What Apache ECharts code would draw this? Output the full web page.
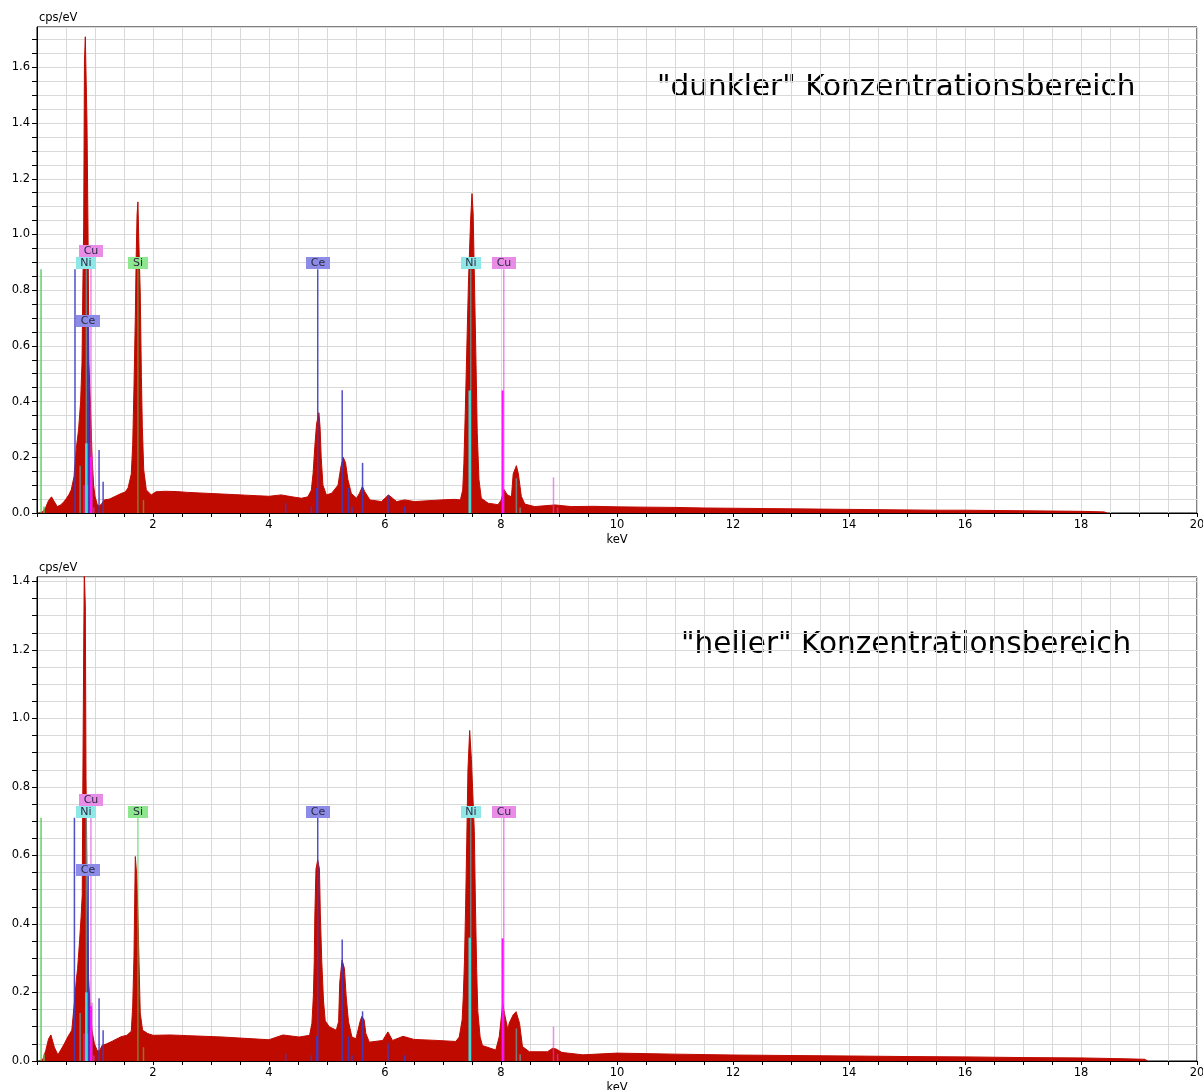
<!DOCTYPE html>
<html>
<head>
<meta charset="utf-8">
<script src="https://cdn.jsdelivr.net/npm/echarts@6/dist/echarts.min.js"></script>
<style>
html,body{margin:0;padding:0;background:#fff;overflow:hidden;width:1203px;height:1090px;}
#chart{display:block;width:1203px;height:1090px;overflow:hidden;}
</style>
</head>
<body>
<div id="chart"></div>
<script>
// ---------- DATA ----------
const titles = ['"dunkler" Konzentrationsbereich', '"heller" Konzentrationsbereich'];
const xAxisName = 'keV';
const yAxisName = 'cps/eV';

// spectrum [keV, cps/eV] — upper panel ("dunkler")
const spectrumTop = [
  [0.04,0],[0.10,0.005],[0.15,0.02],[0.20,0.045],[0.25,0.058],[0.30,0.04],[0.35,0.023],[0.40,0.028],
  [0.45,0.037],[0.50,0.05],[0.55,0.066],[0.59,0.083],[0.638,0.13],[0.678,0.232],[0.717,0.30],
  [0.752,0.40],[0.764,0.47],[0.776,0.54],[0.790,0.80],[0.805,1.03],[0.818,1.62],[0.833,1.71],
  [0.848,1.55],[0.862,1.40],[0.879,1.03],[0.896,0.54],[0.910,0.45],[0.924,0.375],[0.948,0.21],
  [0.976,0.10],[1.00,0.06],[1.04,0.03],[1.08,0.025],[1.12,0.035],[1.16,0.047],[1.25,0.05],
  [1.35,0.06],[1.45,0.07],[1.52,0.075],[1.57,0.09],[1.626,0.14],[1.65,0.245],[1.672,0.45],
  [1.695,0.70],[1.71,0.92],[1.725,1.07],[1.74,1.117],[1.755,0.98],[1.78,0.79],[1.80,0.49],
  [1.816,0.31],[1.84,0.155],[1.885,0.083],[1.97,0.065],[2.05,0.076],[2.2,0.078],[2.4,0.077],
  [2.6,0.074],[2.8,0.072],[3.0,0.07],[3.2,0.068],[3.4,0.066],[3.6,0.064],[3.8,0.062],[4.0,0.06],
  [4.21,0.065],[4.40,0.058],[4.56,0.053],[4.67,0.058],[4.73,0.082],[4.76,0.142],[4.79,0.238],
  [4.82,0.32],[4.86,0.36],[4.88,0.31],[4.90,0.20],[4.93,0.10],[4.99,0.065],[5.08,0.071],
  [5.19,0.10],[5.24,0.166],[5.28,0.20],[5.32,0.18],[5.36,0.12],[5.42,0.07],[5.51,0.053],
  [5.56,0.071],[5.61,0.095],[5.65,0.077],[5.74,0.047],[5.94,0.041],[6.06,0.065],[6.20,0.041],
  [6.34,0.047],[6.51,0.041],[6.97,0.047],[7.20,0.049],[7.30,0.047],[7.34,0.083],[7.36,0.178],
  [7.385,0.37],[7.41,0.585],[7.44,0.836],[7.476,1.051],[7.50,1.147],[7.52,1.075],[7.545,0.80],
  [7.57,0.53],[7.59,0.29],[7.62,0.12],[7.66,0.053],[7.78,0.035],[7.95,0.03],[8.005,0.047],
  [8.05,0.085],[8.11,0.065],[8.18,0.058],[8.21,0.14],[8.265,0.17],[8.30,0.14],[8.35,0.06],
  [8.41,0.032],[8.58,0.023],[8.93,0.029],[9.21,0.023],[9.6,0.024],[10,0.022],[10.5,0.021],
  [11,0.02],[11.5,0.018],[12,0.017],[12.5,0.016],[13,0.015],[13.5,0.014],[14,0.013],[14.5,0.012],
  [15,0.011],[15.5,0.01],[16,0.01],[16.5,0.009],[17,0.008],[17.5,0.007],[18,0.006],[18.4,0.004],[18.45,0]
];

// spectrum [keV, cps/eV] — lower panel ("heller")
const spectrumBottom = [
  [0.04,0],[0.10,0.005],[0.15,0.03],[0.20,0.065],[0.24,0.076],[0.30,0.04],[0.36,0.018],[0.42,0.035],
  [0.47,0.05],[0.53,0.07],[0.60,0.09],[0.65,0.18],[0.68,0.24],[0.70,0.27],[0.735,0.353],[0.76,0.42],
  [0.78,0.485],[0.79,0.796],[0.805,1.20],[0.815,1.43],[0.825,1.43],[0.833,1.33],[0.845,0.83],
  [0.867,0.45],[0.89,0.24],[0.914,0.16],[0.948,0.09],[0.99,0.05],[1.04,0.03],[1.08,0.03],
  [1.12,0.045],[1.2,0.05],[1.3,0.058],[1.45,0.071],[1.55,0.075],[1.626,0.087],[1.65,0.16],
  [1.672,0.305],[1.695,0.597],[1.72,0.54],[1.74,0.43],[1.76,0.28],[1.78,0.14],[1.82,0.09],
  [1.91,0.08],[2.0,0.075],[2.3,0.076],[2.6,0.074],[2.9,0.072],[3.2,0.07],[3.5,0.067],[3.8,0.064],
  [4.0,0.062],[4.24,0.076],[4.52,0.07],[4.70,0.075],[4.74,0.11],[4.765,0.19],[4.78,0.29],
  [4.79,0.42],[4.81,0.56],[4.84,0.587],[4.87,0.56],[4.885,0.43],[4.91,0.29],[4.94,0.175],
  [4.97,0.117],[5.04,0.10],[5.16,0.09],[5.20,0.115],[5.22,0.23],[5.26,0.295],[5.30,0.27],
  [5.33,0.19],[5.37,0.115],[5.43,0.07],[5.50,0.065],[5.57,0.115],[5.60,0.13],[5.64,0.12],
  [5.67,0.08],[5.73,0.055],[5.96,0.06],[6.05,0.085],[6.13,0.06],[6.31,0.072],[6.5,0.063],
  [6.9,0.06],[7.22,0.057],[7.28,0.07],[7.33,0.12],[7.35,0.19],[7.37,0.29],[7.39,0.45],[7.41,0.645],
  [7.43,0.85],[7.46,0.965],[7.49,0.88],[7.54,0.67],[7.56,0.45],[7.58,0.27],[7.60,0.145],[7.64,0.07],
  [7.68,0.045],[7.91,0.032],[7.97,0.071],[8.03,0.168],[8.06,0.139],[8.12,0.09],[8.14,0.11],
  [8.21,0.135],[8.26,0.144],[8.32,0.11],[8.37,0.042],[8.49,0.027],[8.80,0.027],[8.89,0.037],
  [8.95,0.035],[9.05,0.025],[9.41,0.018],[10,0.023],[11,0.02],[12,0.0175],[13,0.016],[14,0.0146],
  [15,0.013],[16,0.012],[17,0.01],[18,0.009],[18.6,0.007],[19.1,0.005],[19.15,0]
];

// element marker lines [keV, height] — upper panel
const ceLinesTop = [[0.655,0.875],[0.883,0.667],[0.902,0.25],[1.07,0.226],[1.14,0.112],[4.287,0.036],[4.73,0.023],[4.823,0.09],[4.84,0.875],[5.262,0.441],[5.37,0.09],[5.43,0.023],[5.613,0.18],[6.052,0.065],[6.34,0.023]];
const niLinesTop = [[0.743,0.17],[0.851,0.875],[0.868,0.10],[7.478,0.875],[8.265,0.125],[8.33,0.02]];
const niStrongTop = [[0.851,0.25],[7.461,0.44]];
const cuLinesTop = [[0.811,0.10],[0.93,0.918],[0.95,0.215],[0.98,0.02],[8.048,0.875],[8.905,0.128],[8.976,0.02]];
const cuStrongTop = [[0.93,0.2],[8.028,0.44]];
const siLinesTop = [[1.74,0.875],[1.836,0.047]];
const otherLinesTop = [[0.07,0.875],[0.12,0.023]];

// element marker lines [keV, height] — lower panel
const ceLinesBottom = [[0.645,0.71],[0.883,0.54],[0.902,0.20],[1.07,0.183],[1.14,0.09],[4.287,0.022],[4.73,0.017],[4.823,0.073],[4.84,0.71],[5.262,0.355],[5.37,0.071],[5.43,0.017],[5.613,0.145],[6.052,0.052],[6.34,0.017]];
const niLinesBottom = [[0.743,0.14],[0.851,0.71],[0.868,0.08],[7.478,0.71],[8.265,0.095],[8.33,0.02]];
const niStrongBottom = [[0.851,0.2],[7.461,0.36]];
const cuLinesBottom = [[0.811,0.08],[0.93,0.745],[0.95,0.17],[0.98,0.016],[8.048,0.71],[8.905,0.10],[8.976,0.02]];
const cuStrongBottom = [[0.93,0.16],[8.028,0.358]];
const siLinesBottom = [[1.74,0.71],[1.836,0.04]];
const otherLinesBottom = [[0.07,0.71],[0.12,0.02]];

// element labels [keV, height, name]
const labelsTop = [[0.93,0.918,'Cu'],[0.851,0.875,'Ni'],[0.883,0.667,'Ce'],[1.74,0.875,'Si'],[4.84,0.875,'Ce'],[7.478,0.875,'Ni'],[8.048,0.875,'Cu']];
const labelsBottom = [[0.93,0.745,'Cu'],[0.851,0.71,'Ni'],[0.883,0.54,'Ce'],[1.74,0.71,'Si'],[4.84,0.71,'Ce'],[7.478,0.71,'Ni'],[8.048,0.71,'Cu']];

// ---------- STYLE ----------
const RED = '#bf0a00';
const FONT = 'DejaVu Sans';
const elStyle = {
  Ce: {line:'#3c3cc4', box:'#8c8ce8'},
  Ni: {line:'#40dcdc', box:'#8ee8e8'},
  Cu: {line:'#e040e0', box:'#e88ce8'},
  Si: {line:'#50cc50', box:'#8ee68e'}
};

function isMult(v, step) { const r = v / step; return Math.abs(r - Math.round(r)) < 1e-6; }

function xAxisFor(i) {
  return {
    gridIndex: i, type: 'value', min: 0, max: 20, interval: 0.5,
    name: xAxisName, nameLocation: 'middle', nameGap: 21,
    nameTextStyle: {fontSize: 11.5, color: '#000', fontFamily: FONT},
    axisLine: {show: true, onZero: false, lineStyle: {color: '#000', width: 1}},
    axisTick: {show: true, length: 4, lineStyle: {color: '#000'}},
    axisLabel: {interval: 0, fontSize: 11.5, color: '#000', fontFamily: FONT, margin: 6,
      formatter: v => (v > 0 && isMult(v, 2)) ? String(Math.round(v)) : ''},
    splitLine: {show: true, lineStyle: {color: '#d9d9d9', width: 1}}
  };
}
function yAxisFor(i, max) {
  return {
    gridIndex: i, type: 'value', min: 0, max: max, interval: 0.05,
    name: yAxisName, nameLocation: 'end', nameGap: 3,
    nameTextStyle: {fontSize: 11.5, color: '#000', fontFamily: FONT, align: 'left', padding: [0, 0, 0, 2]},
    axisLine: {show: true, lineStyle: {color: '#000', width: 1}},
    axisTick: {show: true, length: 5, lineStyle: {color: '#000'}},
    axisLabel: {interval: 0, fontSize: 11.5, color: '#000', fontFamily: FONT, margin: 7, showMaxLabel: false,
      formatter: v => isMult(v, 0.2) ? v.toFixed(1) : ''},
    splitLine: {show: true, lineStyle: {color: '#d9d9d9', width: 1}}
  };
}

function spectrumSeries(data, i) {
  return {type: 'line', xAxisIndex: i, yAxisIndex: i, data: data, showSymbol: false, symbol: 'none',
    lineStyle: {color: RED, width: 1}, areaStyle: {color: RED, opacity: 1}, z: 2, silent: true, animation: false};
}
function linesSeries(data, i, color, width, opacity) {
  return {type: 'custom', xAxisIndex: i, yAxisIndex: i, data: data, encode: {x: 0, y: 1}, z: 3, silent: true,
    animation: false,
    renderItem: (params, api) => {
      const x = api.value(0), h = api.value(1);
      const a = api.coord([x, 0]), b = api.coord([x, h]);
      return {type: 'line', shape: {x1: a[0], y1: a[1], x2: b[0], y2: b[1]},
        style: {stroke: color, lineWidth: width, opacity: opacity}};
    }};
}
function labelSeries(data, i) {
  return {type: 'custom', xAxisIndex: i, yAxisIndex: i, data: data.map(d => [d[0], d[1]]), encode: {x: 0, y: 1},
    z: 5, silent: true, animation: false,
    renderItem: (params, api) => {
      const d = data[params.dataIndex];
      const name = d[2];
      const p = api.coord([d[0], d[1]]);
      const w = (name === 'Ni' || name === 'Si') ? 20 : 24, h = 12;
      return {type: 'group', children: [
        {type: 'rect', shape: {x: Math.round(p[0] - w / 2), y: Math.round(p[1] - h), width: w, height: h},
          style: {fill: elStyle[name].box}},
        {type: 'text', style: {text: name, x: Math.round(p[0]), y: Math.round(p[1] - h / 2), align: 'center',
          verticalAlign: 'middle', font: '11px "DejaVu Sans"', fill: '#2a2a40'}}
      ]};
    }};
}

const chart = echarts.init(document.getElementById('chart'), null, {renderer: 'canvas', width: 1203, height: 1090});
chart.setOption({
  animation: false,
  backgroundColor: '#fff',
  grid: [
    {left: 37, right: 6, top: 27, height: 486, show: true, borderColor: '#000', borderWidth: 1,
      backgroundColor: 'transparent', containLabel: false, outerBoundsMode: 'none'},
    {left: 37, right: 6, top: 577, height: 484, show: true, borderColor: '#000', borderWidth: 1,
      backgroundColor: 'transparent', containLabel: false, outerBoundsMode: 'none'}
  ],
  xAxis: [xAxisFor(0), xAxisFor(1)],
  yAxis: [yAxisFor(0, 1.745), yAxisFor(1, 1.413)],
  graphic: [
    {type: 'text', left: 657, top: 73, style: {text: titles[0], font: '29.5px "DejaVu Sans"', fill: '#000'}},
    {type: 'text', left: 681, top: 630, style: {text: titles[1], font: '29.5px "DejaVu Sans"', fill: '#000'}}
  ],
  series: [
    spectrumSeries(spectrumTop, 0),
    linesSeries(otherLinesTop, 0, elStyle.Si.line, 1.5, 0.9),
    linesSeries(siLinesTop, 0, elStyle.Si.line, 1.5, 0.6),
    linesSeries(ceLinesTop, 0, elStyle.Ce.line, 1.5, 0.9),
    linesSeries(niLinesTop, 0, elStyle.Ni.line, 1.5, 0.55),
    linesSeries(cuLinesTop, 0, elStyle.Cu.line, 1.5, 0.6),
    linesSeries(niStrongTop, 0, elStyle.Ni.line, 2.5, 1),
    linesSeries(cuStrongTop, 0, '#ff10ff', 2, 1),
    labelSeries(labelsTop, 0),

    spectrumSeries(spectrumBottom, 1),
    linesSeries(otherLinesBottom, 1, elStyle.Si.line, 1.5, 0.9),
    linesSeries(siLinesBottom, 1, elStyle.Si.line, 1.5, 0.6),
    linesSeries(ceLinesBottom, 1, elStyle.Ce.line, 1.5, 0.9),
    linesSeries(niLinesBottom, 1, elStyle.Ni.line, 1.5, 0.55),
    linesSeries(cuLinesBottom, 1, elStyle.Cu.line, 1.5, 0.6),
    linesSeries(niStrongBottom, 1, elStyle.Ni.line, 2.5, 1),
    linesSeries(cuStrongBottom, 1, '#ff10ff', 2, 1),
    labelSeries(labelsBottom, 1)
  ]
});
</script>
</body>
</html>
